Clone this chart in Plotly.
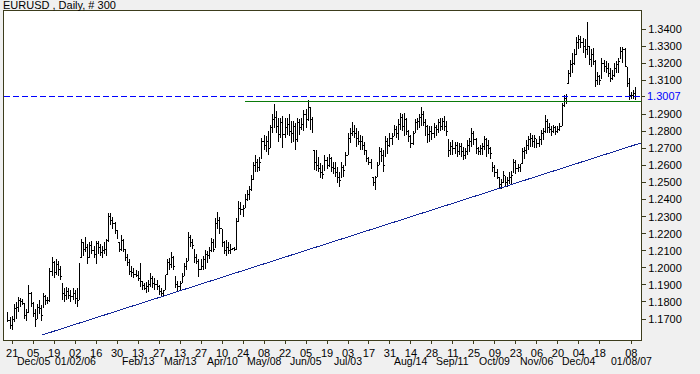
import plotly.graph_objects as go
import pandas as pd

# ---- data ----
opens = [
 1.1700,1.1690,1.1660,1.1700,1.1760,1.1770,1.1810,1.1800,1.1790,1.1720,
 1.1740,1.1850,1.1790,1.1730,1.1700,1.1770,1.1760,1.1770,1.1830,1.1810,
 1.1810,1.1980,1.2030,1.1970,1.2020,1.1990,1.1910,1.1850,1.1840,1.1860,
 1.1840,1.1830,1.1850,1.1820,1.1810,1.2060,1.2150,1.2110,1.2120,1.2060,
 1.2130,1.2100,1.2080,1.2140,1.2120,1.2090,1.2100,1.2110,1.2160,1.2300,
 1.2280,1.2260,1.2220,1.2150,1.2110,1.2160,1.2110,1.2060,1.2030,1.1980,
 1.1970,1.1960,1.1955,1.1940,1.1920,1.1895,1.1880,1.1890,1.1900,1.1940,
 1.1910,1.1900,1.1890,1.1860,1.1850,1.1870,1.1960,1.2030,1.2020,1.2060,
 1.1950,1.1900,1.1890,1.1910,1.1950,1.2010,1.2040,1.2180,1.2150,1.2110,
 1.2060,1.2040,1.1990,1.2010,1.2050,1.2080,1.2070,1.2100,1.2150,1.2120,
 1.2260,1.2280,1.2230,1.2150,1.2100,1.2120,1.2100,1.2110,1.2112,1.2110,
 1.2270,1.2350,1.2340,1.2350,1.2400,1.2430,1.2460,1.2520,1.2600,1.2620,
 1.2590,1.2640,1.2740,1.2720,1.2740,1.2700,1.2820,1.2870,1.2880,1.2830,
 1.2780,1.2850,1.2780,1.2820,1.2840,1.2800,1.2790,1.2830,1.2750,1.2850,
 1.2820,1.2840,1.2900,1.2870,1.2940,1.2870,1.2690,1.2620,1.2600,1.2580,
 1.2560,1.2570,1.2630,1.2600,1.2640,1.2590,1.2580,1.2560,1.2530,1.2530,
 1.2590,1.2600,1.2660,1.2760,1.2790,1.2800,1.2790,1.2760,1.2740,1.2740,
 1.2720,1.2690,1.2640,1.2620,1.2530,1.2500,1.2530,1.2600,1.2680,1.2660,
 1.2650,1.2740,1.2720,1.2760,1.2770,1.2810,1.2790,1.2840,1.2880,1.2830,
 1.2870,1.2800,1.2770,1.2730,1.2790,1.2850,1.2860,1.2880,1.2900,1.2850,
 1.2830,1.2780,1.2800,1.2790,1.2820,1.2810,1.2850,1.2830,1.2860,1.2830,
 1.2750,1.2690,1.2710,1.2700,1.2720,1.2680,1.2710,1.2680,1.2660,1.2680,
 1.2720,1.2740,1.2790,1.2750,1.2700,1.2680,1.2700,1.2710,1.2750,1.2720,
 1.2700,1.2620,1.2590,1.2560,1.2530,1.2490,1.2500,1.2540,1.2500,1.2510,
 1.2530,1.2560,1.2620,1.2580,1.2590,1.2610,1.2680,1.2690,1.2720,1.2750,
 1.2760,1.2740,1.2750,1.2730,1.2750,1.2790,1.2800,1.2860,1.2820,1.2810,
 1.2800,1.2820,1.2800,1.2810,1.2830,1.2950,1.2990,1.3080,1.3140,1.3190,
 1.3200,1.3250,1.3320,1.3340,1.3320,1.3300,1.3280,1.3300,1.3220,1.3250,
 1.3210,1.3100,1.3120,1.3110,1.3200,1.3180,1.3170,1.3140,1.3110,1.3130,
 1.3170,1.3190,1.3230,1.3270,1.3280,1.3180,1.3080,1.3010,1.3010,1.3020,
]
highs = [
 1.1740,1.1710,1.1720,1.1790,1.1800,1.1830,1.1825,1.1820,1.1790,1.1760,
 1.1900,1.1860,1.1800,1.1760,1.1790,1.1810,1.1780,1.1850,1.1840,1.1830,
 1.2000,1.2066,1.2040,1.2050,1.2040,1.2010,1.1910,1.1880,1.1890,1.1880,
 1.1870,1.1880,1.1870,1.1880,1.2030,1.2170,1.2150,1.2180,1.2140,1.2150,
 1.2160,1.2130,1.2160,1.2160,1.2140,1.2130,1.2150,1.2170,1.2321,1.2320,
 1.2300,1.2270,1.2220,1.2150,1.2190,1.2170,1.2110,1.2080,1.2050,1.2010,
 1.2000,1.1990,1.1980,1.2030,1.1920,1.1910,1.1915,1.1930,1.1970,1.1950,
 1.1940,1.1930,1.1900,1.1880,1.1870,1.1960,1.2050,1.2060,1.2090,1.2070,
 1.1950,1.1920,1.1920,1.1970,1.2030,1.2060,1.2210,1.2195,1.2170,1.2110,
 1.2080,1.2050,1.2050,1.2070,1.2105,1.2100,1.2120,1.2175,1.2170,1.2290,
 1.2330,1.2300,1.2230,1.2160,1.2165,1.2150,1.2140,1.2118,1.2120,1.2290,
 1.2390,1.2385,1.2370,1.2430,1.2455,1.2480,1.2545,1.2620,1.2660,1.2640,
 1.2650,1.2760,1.2780,1.2770,1.2800,1.2840,1.2900,1.2960,1.2920,1.2880,
 1.2880,1.2890,1.2880,1.2880,1.2900,1.2860,1.2860,1.2850,1.2880,1.2870,
 1.2880,1.2925,1.2930,1.2984,1.2940,1.2885,1.2690,1.2690,1.2650,1.2615,
 1.2600,1.2660,1.2650,1.2670,1.2650,1.2620,1.2620,1.2590,1.2560,1.2620,
 1.2600,1.2680,1.2790,1.2820,1.2855,1.2840,1.2820,1.2800,1.2780,1.2770,
 1.2740,1.2690,1.2650,1.2640,1.2530,1.2540,1.2620,1.2710,1.2700,1.2690,
 1.2770,1.2760,1.2790,1.2790,1.2840,1.2830,1.2870,1.2910,1.2900,1.2910,
 1.2880,1.2810,1.2780,1.2800,1.2870,1.2880,1.2900,1.2943,1.2920,1.2870,
 1.2840,1.2830,1.2830,1.2850,1.2840,1.2870,1.2880,1.2880,1.2890,1.2860,
 1.2750,1.2740,1.2750,1.2740,1.2740,1.2730,1.2730,1.2710,1.2700,1.2750,
 1.2760,1.2820,1.2800,1.2760,1.2710,1.2720,1.2730,1.2770,1.2760,1.2750,
 1.2710,1.2620,1.2600,1.2580,1.2530,1.2520,1.2570,1.2540,1.2530,1.2560,
 1.2570,1.2640,1.2630,1.2610,1.2610,1.2700,1.2710,1.2750,1.2770,1.2790,
 1.2780,1.2780,1.2750,1.2770,1.2810,1.2820,1.2895,1.2870,1.2850,1.2830,
 1.2840,1.2830,1.2830,1.2850,1.2966,1.3013,1.3020,1.3160,1.3220,1.3260,
 1.3280,1.3353,1.3365,1.3360,1.3350,1.3340,1.3441,1.3300,1.3280,1.3290,
 1.3220,1.3150,1.3130,1.3230,1.3220,1.3210,1.3200,1.3170,1.3160,1.3200,
 1.3210,1.3230,1.3295,1.3295,1.3290,1.3180,1.3110,1.3030,1.3040,1.3060,
]
lows = [
 1.1680,1.1640,1.1638,1.1680,1.1700,1.1740,1.1770,1.1780,1.1700,1.1690,
 1.1740,1.1770,1.1710,1.1655,1.1700,1.1730,1.1690,1.1770,1.1780,1.1790,
 1.1800,1.1950,1.1940,1.1960,1.1950,1.1930,1.1810,1.1800,1.1810,1.1820,
 1.1800,1.1810,1.1790,1.1770,1.1810,1.2060,1.2070,1.2090,1.2020,1.2060,
 1.2080,1.2060,1.2020,1.2080,1.2070,1.2060,1.2080,1.2070,1.2150,1.2250,
 1.2230,1.2200,1.2170,1.2090,1.2100,1.2090,1.2040,1.2010,1.1960,1.1945,
 1.1940,1.1945,1.1920,1.1890,1.1870,1.1870,1.1855,1.1860,1.1890,1.1880,
 1.1870,1.1870,1.1840,1.1830,1.1832,1.1870,1.1960,1.1990,1.2000,1.1990,
 1.1880,1.1860,1.1865,1.1910,1.1950,1.1990,1.2040,1.2120,1.2110,1.2030,
 1.2020,1.1947,1.1990,1.1990,1.1995,1.2030,1.2050,1.2090,1.2090,1.2120,
 1.2230,1.2200,1.2120,1.2080,1.2070,1.2080,1.2080,1.2105,1.2100,1.2110,
 1.2270,1.2310,1.2300,1.2350,1.2390,1.2400,1.2450,1.2520,1.2560,1.2560,
 1.2570,1.2640,1.2690,1.2680,1.2660,1.2700,1.2790,1.2820,1.2790,1.2740,
 1.2760,1.2700,1.2760,1.2780,1.2770,1.2730,1.2740,1.2690,1.2735,1.2780,
 1.2810,1.2800,1.2820,1.2860,1.2810,1.2790,1.2575,1.2570,1.2560,1.2527,
 1.2520,1.2570,1.2580,1.2590,1.2560,1.2550,1.2530,1.2500,1.2475,1.2530,
 1.2530,1.2600,1.2660,1.2730,1.2770,1.2760,1.2710,1.2720,1.2690,1.2690,
 1.2660,1.2620,1.2600,1.2580,1.2480,1.2457,1.2530,1.2600,1.2620,1.2560,
 1.2650,1.2670,1.2710,1.2720,1.2770,1.2760,1.2750,1.2810,1.2800,1.2770,
 1.2780,1.2740,1.2700,1.2720,1.2790,1.2810,1.2820,1.2830,1.2830,1.2770,
 1.2730,1.2740,1.2750,1.2760,1.2770,1.2790,1.2800,1.2810,1.2800,1.2770,
 1.2650,1.2660,1.2660,1.2670,1.2650,1.2660,1.2650,1.2630,1.2640,1.2660,
 1.2680,1.2710,1.2720,1.2670,1.2660,1.2660,1.2660,1.2690,1.2650,1.2670,
 1.2640,1.2560,1.2530,1.2520,1.2470,1.2465,1.2500,1.2480,1.2475,1.2490,
 1.2490,1.2560,1.2550,1.2560,1.2560,1.2610,1.2640,1.2670,1.2690,1.2710,
 1.2710,1.2700,1.2700,1.2710,1.2720,1.2750,1.2790,1.2790,1.2790,1.2770,
 1.2790,1.2780,1.2790,1.2800,1.2830,1.2943,1.2960,1.3080,1.3120,1.3140,
 1.3190,1.3250,1.3280,1.3290,1.3260,1.3230,1.3250,1.3190,1.3180,1.3190,
 1.3060,1.3070,1.3070,1.3110,1.3150,1.3140,1.3120,1.3090,1.3100,1.3120,
 1.3140,1.3140,1.3230,1.3200,1.3180,1.3060,1.2985,1.2990,1.2990,1.2984,
]
closes = [
 1.1690,1.1660,1.1700,1.1760,1.1770,1.1810,1.1800,1.1790,1.1720,1.1740,
 1.1850,1.1790,1.1730,1.1700,1.1770,1.1760,1.1720,1.1830,1.1810,1.1810,
 1.1980,1.2030,1.1970,1.2020,1.1990,1.1950,1.1850,1.1840,1.1860,1.1840,
 1.1830,1.1850,1.1820,1.1800,1.2010,1.2150,1.2110,1.2120,1.2060,1.2130,
 1.2100,1.2080,1.2140,1.2120,1.2090,1.2100,1.2110,1.2160,1.2300,1.2280,
 1.2260,1.2230,1.2190,1.2110,1.2160,1.2110,1.2060,1.2030,1.1980,1.1970,
 1.1960,1.1955,1.1940,1.1920,1.1895,1.1880,1.1890,1.1900,1.1940,1.1910,
 1.1900,1.1890,1.1860,1.1850,1.1860,1.1940,1.2030,1.2020,1.2060,1.2010,
 1.1900,1.1890,1.1900,1.1950,1.2010,1.2040,1.2180,1.2150,1.2130,1.2060,
 1.2040,1.1990,1.2010,1.2050,1.2080,1.2070,1.2100,1.2150,1.2110,1.2260,
 1.2280,1.2230,1.2150,1.2100,1.2120,1.2100,1.2110,1.2112,1.2110,1.2270,
 1.2350,1.2340,1.2330,1.2400,1.2430,1.2460,1.2520,1.2600,1.2620,1.2590,
 1.2620,1.2740,1.2720,1.2740,1.2700,1.2820,1.2870,1.2880,1.2830,1.2780,
 1.2850,1.2780,1.2820,1.2840,1.2800,1.2790,1.2830,1.2750,1.2850,1.2820,
 1.2840,1.2900,1.2870,1.2950,1.2870,1.2810,1.2620,1.2600,1.2580,1.2560,
 1.2550,1.2630,1.2600,1.2640,1.2590,1.2580,1.2560,1.2530,1.2510,1.2590,
 1.2570,1.2660,1.2760,1.2790,1.2800,1.2790,1.2760,1.2740,1.2740,1.2720,
 1.2690,1.2640,1.2620,1.2600,1.2500,1.2520,1.2590,1.2680,1.2660,1.2600,
 1.2740,1.2720,1.2760,1.2750,1.2810,1.2790,1.2840,1.2880,1.2830,1.2870,
 1.2800,1.2770,1.2730,1.2780,1.2850,1.2860,1.2880,1.2900,1.2850,1.2830,
 1.2780,1.2800,1.2790,1.2820,1.2810,1.2850,1.2830,1.2860,1.2830,1.2800,
 1.2690,1.2710,1.2700,1.2720,1.2680,1.2710,1.2680,1.2660,1.2680,1.2720,
 1.2740,1.2790,1.2750,1.2700,1.2680,1.2700,1.2710,1.2750,1.2720,1.2700,
 1.2670,1.2590,1.2560,1.2540,1.2490,1.2500,1.2550,1.2500,1.2510,1.2530,
 1.2540,1.2620,1.2580,1.2590,1.2600,1.2680,1.2690,1.2720,1.2750,1.2760,
 1.2740,1.2760,1.2730,1.2750,1.2790,1.2800,1.2860,1.2820,1.2810,1.2800,
 1.2820,1.2800,1.2810,1.2830,1.2950,1.2990,1.3000,1.3140,1.3190,1.3200,
 1.3250,1.3320,1.3340,1.3320,1.3300,1.3280,1.3330,1.3220,1.3250,1.3210,
 1.3100,1.3120,1.3100,1.3200,1.3180,1.3170,1.3140,1.3110,1.3130,1.3170,
 1.3190,1.3210,1.3270,1.3280,1.3210,1.3080,1.3010,1.3010,1.3020,1.3007,
]

first_date = "2005-11-17"
tick_dates = ["2005-11-21", "2005-12-05", "2005-12-19", "2006-01-02", "2006-01-16",
              "2006-01-30", "2006-02-13", "2006-02-27", "2006-03-13", "2006-03-27",
              "2006-04-10", "2006-04-24", "2006-05-08", "2006-05-22", "2006-06-05",
              "2006-06-19", "2006-07-03", "2006-07-17", "2006-07-31", "2006-08-14",
              "2006-08-28", "2006-09-11", "2006-09-25", "2006-10-09", "2006-10-23",
              "2006-11-06", "2006-11-20", "2006-12-04", "2006-12-18", "2007-01-08"]
tick_text = ["21", "05", "19", "02", "16", "30", "13", "27", "13", "27", "10", "24", "08",
             "22", "05", "19", "03", "17", "31", "14", "28", "11", "25", "09", "23", "06",
             "20", "04", "18", "08"]
month_dates = ["2005-12-05", "2006-01-02", "2006-02-13", "2006-03-13", "2006-04-10",
               "2006-05-08", "2006-06-05", "2006-07-03", "2006-08-14", "2006-09-11",
               "2006-10-09", "2006-11-06", "2006-12-04", "2007-01-08"]
month_text = ["Dec/05", "01/02/06", "Feb/13", "Mar/13", "Apr/10", "May/08", "Jun/05",
              "Jul/03", "Aug/14", "Sep/11", "Oct/09", "Nov/06", "Dec/04", "01/08/07"]
price_ticks = [1.17, 1.18, 1.19, 1.20, 1.21, 1.22, 1.23, 1.24, 1.25, 1.26, 1.27, 1.28,
               1.29, 1.31, 1.32, 1.33, 1.34]
trend_idx = [16.2, 301.6]
trend_price = [1.1606, 1.2732]
resistance_idx = 113
resistance_price = 1.2977
title_text = "EURUSD , Daily, # 300"

# ---- build ----
dates = pd.bdate_range(first_date, periods=len(closes))
date_str = [d.strftime("%Y-%m-%d") for d in dates]
idx = list(range(len(closes)))
last_price = closes[-1]

FONT = "Liberation Sans, Arial, sans-serif"
FRAME = "#3c3c1c"

fig = go.Figure(go.Ohlc(
    x=idx, open=opens, high=highs, low=lows, close=closes,
    increasing=dict(line=dict(color="black", width=1)),
    decreasing=dict(line=dict(color="black", width=1)),
    tickwidth=0.5, text=date_str, hoverinfo="skip",
))

x_range = [-1.9, 301.6]
y_range = [1.15769, 1.35055]

shapes = [
    dict(type="line", xref="x", yref="y", x0=trend_idx[0], x1=trend_idx[1],
         y0=trend_price[0], y1=trend_price[1], line=dict(color="#14289a", width=1)),
    dict(type="line", xref="x", yref="y", x0=resistance_idx, x1=x_range[1],
         y0=resistance_price, y1=resistance_price, line=dict(color="#0a7a0a", width=1)),
    dict(type="line", xref="paper", yref="y", x0=0, x1=1,
         y0=last_price, y1=last_price, line=dict(color="#0000ff", width=1, dash="6px,3px")),
    dict(type="line", xref="paper", yref="y", x0=1, x1=1 + 4 / 637,
         y0=last_price, y1=last_price, line=dict(color=FRAME, width=1)),
]

annotations = [
    dict(text=title_text, xref="paper", yref="paper", x=-3 / 637, y=1 + 6 / 329,
         xanchor="left", yanchor="middle", showarrow=False,
         font=dict(family=FONT, size=11, color="black")),
    dict(text=f"{last_price:.4f}", xref="paper", yref="y", x=1, y=last_price,
         xanchor="left", yanchor="middle", xshift=4, showarrow=False,
         font=dict(family=FONT, size=11, color="#0000ff")),
]
for d, t in zip(month_dates, month_text):
    annotations.append(dict(text=t, xref="x", yref="paper", x=date_str.index(d), y=0,
                            xanchor="center", yanchor="middle", yshift=-21, showarrow=False,
                            font=dict(family=FONT, size=10.5, color="black")))

fig.update_layout(
    width=700, height=374,
    margin=dict(l=4, r=59, t=11, b=34),
    paper_bgcolor="#f0f0f0", plot_bgcolor="white",
    showlegend=False,
    font=dict(family=FONT, size=11, color="black"),
    shapes=shapes, annotations=annotations,
    xaxis=dict(range=x_range, rangeslider=dict(visible=False), showgrid=False,
               zeroline=False, tickmode="array",
               tickvals=[date_str.index(d) for d in tick_dates], ticktext=tick_text,
               ticks="outside", ticklen=3, tickcolor=FRAME, showline=True,
               linecolor=FRAME, linewidth=1, mirror=True,
               tickfont=dict(family=FONT, size=11, color="black")),
    yaxis=dict(range=y_range, side="right", showgrid=False, zeroline=False,
               tickmode="array", tickvals=price_ticks, tickformat=".4f",
               ticks="outside", ticklen=4, tickcolor=FRAME, showline=True,
               linecolor=FRAME, linewidth=1, mirror=True,
               tickfont=dict(family=FONT, size=11, color="black")),
)

page_fix = (
    "document.body.style.margin='0px';"
    "document.querySelectorAll('.main-svg').forEach(function(s){s.style.shapeRendering='crispEdges';});"
)
fig.write_html("out.html", config={"displayModeBar": False}, post_script=page_fix)
